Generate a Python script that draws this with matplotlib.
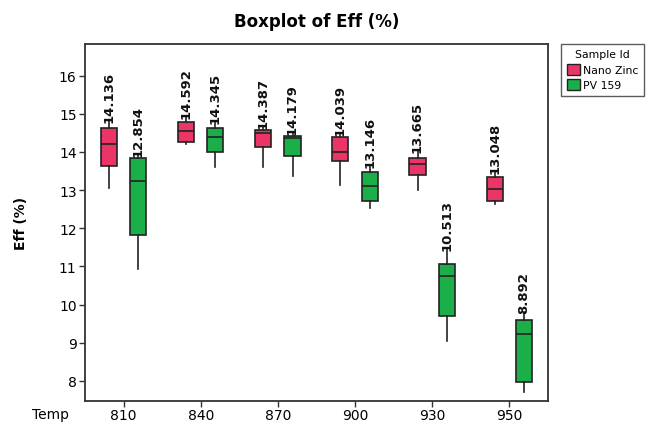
import matplotlib
matplotlib.use("Agg")
import matplotlib.pyplot as plt
from matplotlib.patches import Patch

temps = ["810", "840", "870", "900", "930", "950"]
series = ["Nano Zinc", "PV 159"]

# per temp: (whislo, q1, med, q3, whishi)
nano_lo  = [13.06, 14.20, 13.61, 13.14, 12.99, 12.64]
nano_q1  = [13.63, 14.27, 14.12, 13.77, 13.40, 12.72]
nano_med = [14.22, 14.56, 14.49, 13.99, 13.69, 13.03]
nano_q3  = [14.62, 14.78, 14.58, 14.39, 13.85, 13.35]
nano_hi  = [14.82, 14.91, 14.67, 14.47, 14.03, 13.47]
nano_mean = ["14.136", "14.592", "14.387", "14.039", "13.665", "13.048"]

pv_lo  = [10.93, 13.61, 13.38, 12.53, 9.04, 7.70]
pv_q1  = [11.83, 13.99, 13.90, 12.72, 9.69, 7.98]
pv_med = [13.25, 14.40, 14.37, 13.11, 10.75, 9.24]
pv_q3  = [13.84, 14.62, 14.43, 13.47, 11.05, 9.60]
pv_hi  = [13.93, 14.79, 14.50, 13.64, 11.46, 9.81]
pv_mean = ["12.854", "14.345", "14.179", "13.146", "10.513", "8.892"]

colors = ["#EC3567", "#1BAF4A"]

fig = plt.figure(figsize=(6.51, 4.27), dpi=100)
ax = fig.add_axes([0.1306, 0.0585, 0.7110, 0.8361])

offset = 0.19
width = 0.21

groups = [
    (nano_lo, nano_q1, nano_med, nano_q3, nano_hi, nano_mean, -offset, colors[0]),
    (pv_lo, pv_q1, pv_med, pv_q3, pv_hi, pv_mean, offset, colors[1]),
]
for lo, q1, med, q3, hi, means, off, col in groups:
    stats = []
    for i in range(len(temps)):
        stats.append(dict(whislo=lo[i], q1=q1[i], med=med[i], q3=q3[i],
                          whishi=hi[i], fliers=[]))
    pos = [i + off for i in range(len(temps))]
    ax.bxp(stats, positions=pos, widths=width, patch_artist=True,
           showcaps=False, showfliers=False,
           boxprops=dict(facecolor=col, edgecolor="#222222", linewidth=1.2),
           medianprops=dict(color="#222222", linewidth=1.2),
           whiskerprops=dict(color="#222222", linewidth=1.2))
    for i, p in enumerate(pos):
        ax.text(p, hi[i] - 0.03, means[i], rotation=90, ha="center", va="bottom",
                fontsize=9.5, fontweight="bold", color="#111111")

ax.set_xlim(-0.5, 5.5)
ax.set_ylim(7.47, 16.83)
ax.set_xticks(range(len(temps)))
ax.set_xticklabels(temps, fontsize=10)
ax.set_yticks(range(8, 17))
ax.tick_params(axis="y", labelsize=10, length=4, width=1, color="#333333", pad=2)
ax.tick_params(axis="x", length=4, width=1, color="#333333", pad=1)
for s in ax.spines.values():
    s.set_color("#333333")
    s.set_linewidth(1.3)

ax.set_ylabel("Eff (%)", fontsize=10, fontweight="bold", labelpad=22)
fig.text(0.077, 0.029, "Temp", fontsize=10, ha="center", va="center")
fig.text(0.486, 0.948, "Boxplot of Eff (%)", fontsize=12, fontweight="bold",
         ha="center", va="center")

handles = [Patch(facecolor=colors[0], edgecolor="#222222", label=series[0]),
           Patch(facecolor=colors[1], edgecolor="#222222", label=series[1])]
leg = fig.legend(handles=handles, title="Sample Id", loc="upper left",
                 bbox_to_anchor=(0.862, 0.895), fontsize=7.8, title_fontsize=7.8,
                 frameon=True, fancybox=False, edgecolor="#333333",
                 handlelength=1.2, handleheight=1.2, handletextpad=0.35,
                 borderpad=0.5, labelspacing=0.4, borderaxespad=0)
leg.get_frame().set_linewidth(1.0)

fig.savefig("out.png", dpi=100)
